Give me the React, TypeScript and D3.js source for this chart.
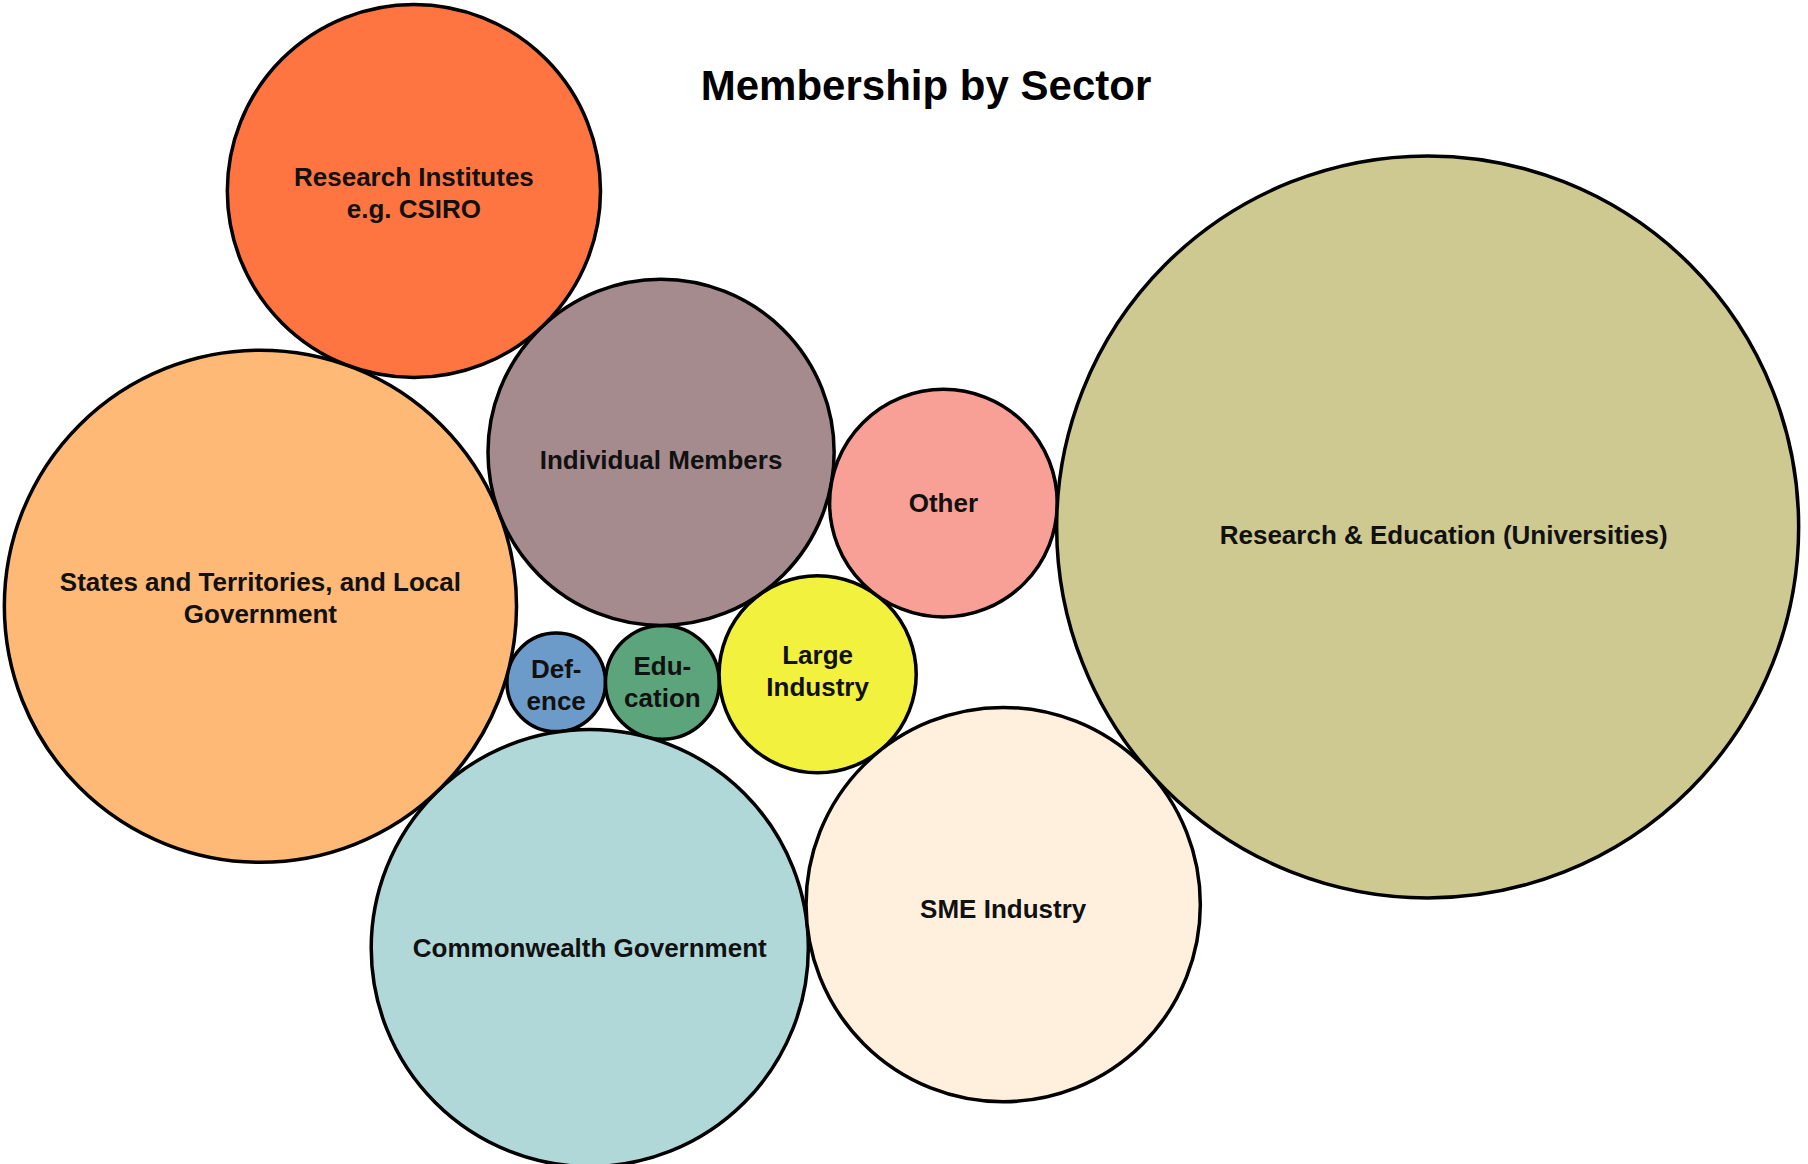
import React from "react";
import * as d3 from "d3";

// sectors and their member counts (bubble area ~ members)
const sectors = [
  "Defence",
  "Education",
  "Commonwealth Government",
  "States and Territories, and Local Government",
  "Individual Members",
  "Research Institutes e.g. CSIRO",
  "Large Industry",
  "Other",
  "SME Industry",
  "Research & Education (Universities)",
];
const members = [3, 4, 59, 81, 37, 43, 12, 16, 48, 170];
const labelLines = [
  ["Def-", "ence"],
  ["Edu-", "cation"],
  ["Commonwealth Government"],
  ["States and Territories, and Local", "Government"],
  ["Individual Members"],
  ["Research Institutes", "e.g. CSIRO"],
  ["Large", "Industry"],
  ["Other"],
  ["SME Industry"],
  ["Research & Education (Universities)"],
];
const colours = [
  "#6d9bc9",
  "#5ca47c",
  "#b0d8d8",
  "#ffb977",
  "#a58a8e",
  "#ff7541",
  "#f2f23e",
  "#f9a096",
  "#fff0dd",
  "#cec891",
];

// which two bubbles each new bubble sits against, and on which side
const packing: [string, string, string, number][] = [
  ["Commonwealth Government", "Defence", "Education", 1],
  ["States and Territories, and Local Government", "Defence", "Commonwealth Government", 1],
  ["Individual Members", "States and Territories, and Local Government", "Education", -1],
  ["Research Institutes e.g. CSIRO", "States and Territories, and Local Government", "Individual Members", -1],
  ["Large Industry", "Education", "Individual Members", 1],
  ["Other", "Individual Members", "Large Industry", -1],
  ["SME Industry", "Large Industry", "Commonwealth Government", -1],
  ["Research & Education (Universities)", "Other", "SME Industry", -1],
];

// small label shifts off the bubble centre, as in the original
const labelNudge: Record<string, [number, number]> = {
  "Research & Education (Universities)": [16, 8],
  "Individual Members": [0, 8],
  "States and Territories, and Local Government": [0, -8],
  "SME Industry": [0, 4],
  "Research Institutes e.g. CSIRO": [0, 2],
  "Large Industry": [0, -3],
  Defence: [0, 3],
};

const width = 1808;
const height = 1164;
const area = { left: 10, right: 1793, top: 8, bottom: 1163 };

type Bubble = { name: string; value: number; r: number; x: number; y: number; lines: string[]; fill: string };

const layout = (): Bubble[] => {
  const radius = d3.scaleSqrt().domain([0, d3.max(members) as number]).range([0, 371]);
  const nodes: Bubble[] = sectors.map((name, i) => ({
    name,
    value: members[i],
    r: radius(members[i]),
    x: 0,
    y: 0,
    lines: labelLines[i],
    fill: colours[i],
  }));
  const byName = new Map(nodes.map((n) => [n.name, n]));
  nodes[1].x = nodes[0].r + nodes[1].r;

  packing.forEach(([name, aName, bName, side]) => {
    const c = byName.get(name)!;
    const a = byName.get(aName)!;
    const b = byName.get(bName)!;
    const dx = b.x - a.x;
    const dy = b.y - a.y;
    const d = Math.hypot(dx, dy);
    const ra = a.r + c.r;
    const rb = b.r + c.r;
    const t = (d * d + ra * ra - rb * rb) / (2 * d);
    const h = Math.sqrt(Math.max(0, ra * ra - t * t));
    const ux = dx / d;
    const uy = dy / d;
    c.x = a.x + t * ux - side * h * uy;
    c.y = a.y + t * uy + side * h * ux;
  });

  // centre the packed group in the drawing area
  const x0 = d3.min(nodes, (n) => n.x - n.r) as number;
  const x1 = d3.max(nodes, (n) => n.x + n.r) as number;
  const y0 = d3.min(nodes, (n) => n.y - n.r) as number;
  const y1 = d3.max(nodes, (n) => n.y + n.r) as number;
  const ox = (area.left + area.right) / 2 - (x0 + x1) / 2;
  const oy = (area.top + area.bottom) / 2 - (y0 + y1) / 2;
  nodes.forEach((n) => {
    n.x += ox;
    n.y += oy;
  });
  return nodes;
};

const App = () => {
  const nodes = layout();
  const lineHeight = 32;

  return (
    <div style={{ position: "absolute", left: 0, top: 0 }}>
      <svg width={width} height={height} style={{ display: "block", background: "#fff" }}>
        {nodes.map((n) => (
          <circle key={n.name} cx={n.x} cy={n.y} r={n.r} fill={n.fill} stroke="#000" strokeWidth={3.5} />
        ))}
        {nodes.map((n) => {
          const [ndx, ndy] = labelNudge[n.name] || [0, 0];
          return (
            <text
              key={n.name + "-label"}
              textAnchor="middle"
              fontFamily="'Liberation Sans', Arial, sans-serif"
              fontWeight="bold"
              fontSize={26}
              fill="#111"
            >
              {n.lines.map((line, j) => (
                <tspan
                  key={j}
                  x={n.x + ndx}
                  y={n.y + ndy + 9 + (j - (n.lines.length - 1) / 2) * lineHeight}
                >
                  {line}
                </tspan>
              ))}
            </text>
          );
        })}
        <text
          x={926}
          y={100}
          textAnchor="middle"
          fontFamily="'Liberation Sans', Arial, sans-serif"
          fontWeight="bold"
          fontSize={42}
          fill="#000"
        >
          Membership by Sector
        </text>
      </svg>
    </div>
  );
};

export default App;
